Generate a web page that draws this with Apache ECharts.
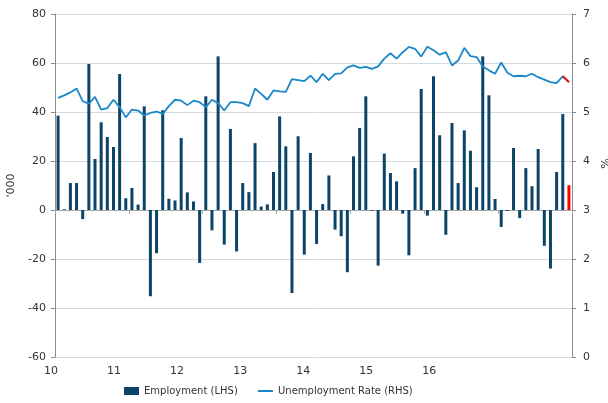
<!DOCTYPE html>
<html lang="en">
<head>
    <meta charset="UTF-8">
    <title>employment</title>
    <script src="https://cdn.jsdelivr.net/npm/echarts@6/dist/echarts.min.js"></script>
    <style>
        html, body { margin: 0; padding: 0; background: #fff; }
        #main { width: 608px; height: 403px; }
    </style>
</head>
<body>
    <div id="main"></div>
    <script type="text/javascript">
        // year labels shown under the chart
        var yearLabels = [10, 11, 12, 13, 14, 15, 16];

        // monthly employment change, '000 (LHS)
        var employment = [
            38.5, 0.3, 11.0, 11.0, -3.7, 59.6, 20.8, 35.8, 29.8, 25.7, 55.5, 4.8,
            9.0, 2.2, 42.3, -35.2, -17.6, 40.7, 4.6, 3.9, 29.4, 7.2, 3.5, -21.6,
            46.4, -8.3, 62.7, -14.1, 33.1, -16.9, 11.0, 7.3, 27.3, 1.4, 2.3, 15.5,
            38.2, 26.0, -33.9, 30.1, -18.2, 23.3, -13.9, 2.4, 14.1, -8.0, -10.7, -25.4,
            21.9, 33.5, 46.4, -0.3, -22.7, 23.0, 15.1, 11.7, -1.5, -18.5, 17.1, 49.4,
            -2.3, 54.6, 30.5, -10.1, 35.5, 11.0, 32.5, 24.2, 9.3, 62.7, 46.8, 4.5,
            -6.9, -0.4, 25.3, -3.3, 17.1, 9.7, 24.9, -14.6, -23.9, 15.5, 39.2, 10.1
        ];

        // unemployment rate, % (RHS)
        var unemployment = [
            5.29, 5.34, 5.40, 5.48, 5.22, 5.17, 5.31, 5.05, 5.08, 5.25, 5.10, 4.89,
            5.05, 5.03, 4.93, 4.98, 5.01, 4.96, 5.12, 5.25, 5.23, 5.14, 5.23, 5.20,
            5.10, 5.25, 5.18, 5.03, 5.20, 5.20, 5.18, 5.12, 5.48, 5.37, 5.25, 5.44,
            5.42, 5.41, 5.67, 5.65, 5.63, 5.74, 5.61, 5.78, 5.65, 5.78, 5.79, 5.91,
            5.95, 5.90, 5.92, 5.88, 5.93, 6.09, 6.20, 6.09, 6.22, 6.33, 6.29, 6.13,
            6.33, 6.26, 6.17, 6.22, 5.95, 6.05, 6.31, 6.14, 6.12, 5.93, 5.85, 5.78,
            6.01, 5.80, 5.73, 5.74, 5.73, 5.78, 5.71, 5.66, 5.61, 5.59, 5.73, 5.61
        ];

        var months = [];
        for (var y = 2010; y <= 2016; y++) {
            for (var m = 1; m <= 12; m++) {
                months.push(y + '-' + (m < 10 ? '0' + m : m));
            }
        }

        var last = employment.length - 1;
        var barData = employment.map(function (v, i) {
            return i === last ? { value: v, itemStyle: { color: '#ff0000' } } : v;
        });
        // latest month of the rate drawn in red
        var redLine = unemployment.map(function (v, i) {
            return i >= last - 1 ? v : null;
        });

        var font = 'DejaVu Sans';
        var legendText = { fontFamily: font, fontSize: 10, color: '#333' };
        var myChart = echarts.init(document.getElementById('main'));

        var option = {
            backgroundColor: '#fff',
            animation: false,
            textStyle: { fontFamily: font },
            grid: { left: 55, right: 36, top: 14, bottom: 46, containLabel: false, outerBoundsMode: 'none' },
            legend: [{
                left: 119,
                top: 381,
                icon: 'rect',
                itemWidth: 15,
                itemHeight: 8,
                textStyle: legendText,
                data: ['Employment (LHS)']
            }, {
                left: 253,
                top: 381,
                icon: 'rect',
                itemWidth: 15,
                itemHeight: 2,
                textStyle: legendText,
                data: ['Unemployment Rate (RHS)']
            }],
            xAxis: [{
                type: 'category',
                data: months,
                boundaryGap: true,
                axisLine: { onZero: true, onZeroAxisIndex: 0, lineStyle: { color: '#a6a6a6' } },
                axisTick: { show: true, interval: 11, length: 4, lineStyle: { color: '#a6a6a6' } },
                axisLabel: { show: false },
                splitLine: { show: false }
            }, {
                type: 'value',
                position: 'bottom',
                min: 10,
                max: 18.2,
                interval: 1,
                axisLine: { show: false, onZero: false },
                axisTick: { show: false },
                splitLine: { show: false },
                axisLabel: {
                    customValues: yearLabels,
                    showMinLabel: true,
                    margin: 9,
                    padding: [0, 8, 0, 0],
                    fontFamily: font,
                    fontSize: 11,
                    color: '#333'
                }
            }],
            yAxis: [{
                type: 'value',
                min: -60,
                max: 80,
                interval: 20,
                name: "'000",
                nameLocation: 'middle',
                nameGap: 32,
                nameTextStyle: { fontFamily: font, fontSize: 11, color: '#333' },
                axisLine: { show: true, onZero: false, lineStyle: { color: '#8c8c8c' } },
                axisTick: { show: true, length: 4, lineStyle: { color: '#8c8c8c' } },
                axisLabel: { margin: 9, fontFamily: font, fontSize: 11, color: '#333' },
                splitLine: { lineStyle: { color: '#d3dbe2' } }
            }, {
                type: 'value',
                min: 0,
                max: 7,
                interval: 1,
                position: 'right',
                name: '%',
                nameLocation: 'middle',
                nameGap: 21,
                nameRotate: 90,
                nameTextStyle: { fontFamily: font, fontSize: 11, color: '#333', padding: [0, 0, 0, 44] },
                axisLine: { show: true, onZero: false, lineStyle: { color: '#8c8c8c' } },
                axisTick: { show: true, length: 4, lineStyle: { color: '#8c8c8c' } },
                axisLabel: { margin: 11, fontFamily: font, fontSize: 11, color: '#333' },
                splitLine: { show: false }
            }],
            series: [{
                name: 'Employment (LHS)',
                type: 'bar',
                xAxisIndex: 0,
                yAxisIndex: 0,
                barWidth: 3,
                itemStyle: { color: '#0b4468' },
                data: barData
            }, {
                name: 'Unemployment Rate (RHS)',
                type: 'line',
                xAxisIndex: 0,
                yAxisIndex: 1,
                symbol: 'none',
                lineStyle: { color: '#1a88c8', width: 1.8 },
                itemStyle: { color: '#1a88c8' },
                data: unemployment
            }, {
                name: 'latest',
                type: 'line',
                xAxisIndex: 0,
                yAxisIndex: 1,
                symbol: 'none',
                lineStyle: { color: '#ff0000', width: 1.8 },
                data: redLine
            }]
        };

        myChart.setOption(option);
    </script>
</body>
</html>
